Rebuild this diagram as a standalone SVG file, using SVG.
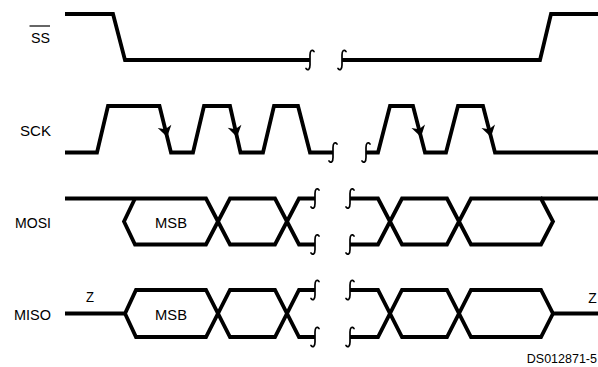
<svg xmlns="http://www.w3.org/2000/svg" xmlns:xlink="http://www.w3.org/1999/xlink" width="598" height="367" viewBox="0 0 598 367">
<style>
.w{fill:none;stroke:#000;stroke-width:3.8;stroke-linejoin:miter;stroke-linecap:butt}
.br{fill:none;stroke:#000;stroke-width:1.7;stroke-linecap:round}
.t{font-family:"Liberation Sans",Arial,sans-serif;font-size:15.5px;fill:#000}
.ah{fill:#000}
</style>
<defs>
<path id="sq" class="br" d="M4,-8.5 C2,-11 0,-9.5 0,-5 V5 C0,9.5 -2,11 -4,8.5"/>
<path id="ar" class="ah" d="M0,0 L-7,-11 L0,-8 L7,-11 Z"/>
</defs>
<rect width="598" height="367" fill="#fff"/>
<g id="ss">
<text class="t" x="31" y="43.3" style="font-size:14px" textLength="19" lengthAdjust="spacingAndGlyphs">SS</text>
<line x1="29.5" y1="26" x2="50" y2="26" stroke="#000" stroke-width="1.2"/>
<path class="w" d="M65,14 H113 L125,60 H310"/>
<path class="w" d="M342,60 H540 L551,14 H598"/>
</g>
<g id="sck">
<text class="t" x="20" y="135.7" textLength="31" lengthAdjust="spacingAndGlyphs">SCK</text>
<path class="w" d="M65,152.5 H97 L108,106 H159.5 L171,152.5 H193 L204,106 H230 L240.5,152.5 H263 L274,106 H298 L310,152.5 H333"/>
<path class="w" d="M366,152.5 H378 L390,106 H413 L425,152.5 H446 L458,106 H483 L495,152.5 H598"/>
<use href="#ar" transform="translate(167.2,137) rotate(-13.9)"/>
<use href="#ar" transform="translate(237,137) rotate(-12.7)"/>
<use href="#ar" transform="translate(421,137) rotate(-14.5)"/>
<use href="#ar" transform="translate(491,137) rotate(-14.5)"/>
</g>
<g id="mosi">
<text class="t" x="15" y="228.3" textLength="36" lengthAdjust="spacingAndGlyphs">MOSI</text>
<text class="t" x="155" y="228.3" textLength="32" lengthAdjust="spacingAndGlyphs">MSB</text>
<path class="w" d="M65,198.5 H206 L230,244.5 H275 L299,198.5 H315"/>
<path class="w" d="M135,198.5 L124,221.5 L135,244.5 H206 L230,198.5 H275 L299,244.5 H315"/>
<path class="w" d="M350,198.5 H378 L402,244.5 H447 L471,198.5 H541 L553,221.5 L541,244.5 H471 L447,198.5 H402 L378,244.5 H350"/>
<path class="w" d="M541,198.5 H598"/>
</g>
<g id="miso">
<text class="t" x="14" y="320" textLength="37" lengthAdjust="spacingAndGlyphs">MISO</text>
<text class="t" x="155" y="320" textLength="32" lengthAdjust="spacingAndGlyphs">MSB</text>
<text class="t" x="86" y="301.7" style="font-size:14px" textLength="8" lengthAdjust="spacingAndGlyphs">Z</text>
<text class="t" x="588.3" y="302.7" style="font-size:14px" textLength="8.5" lengthAdjust="spacingAndGlyphs">Z</text>
<path class="w" d="M65,313.5 H125 L136,290 H206 L230,337 H275 L299,290 H315"/>
<path class="w" d="M125,313.5 L136,337 H206 L230,290 H275 L299,337 H315"/>
<path class="w" d="M350,290 H378 L402,337 H447 L471,290 H541 L553,313.5 H598"/>
<path class="w" d="M350,337 H378 L402,290 H447 L471,337 H541 L553,313.5"/>
</g>
<g id="breaks">
<use href="#sq" transform="translate(310,60)"/>
<use href="#sq" transform="translate(342,60)"/>
<use href="#sq" transform="translate(333,152.5)"/>
<use href="#sq" transform="translate(366,152.5)"/>
<use href="#sq" transform="translate(315,198.5)"/>
<use href="#sq" transform="translate(315,244.5)"/>
<use href="#sq" transform="translate(350,198.5)"/>
<use href="#sq" transform="translate(350,244.5)"/>
<use href="#sq" transform="translate(315,290)"/>
<use href="#sq" transform="translate(315,337)"/>
<use href="#sq" transform="translate(350,290)"/>
<use href="#sq" transform="translate(350,337)"/>
</g>
<text id="ref" x="597" y="363" text-anchor="end" style="font-family:'Liberation Sans',Arial,sans-serif;font-size:12.5px">DS012871-5</text>
</svg>
